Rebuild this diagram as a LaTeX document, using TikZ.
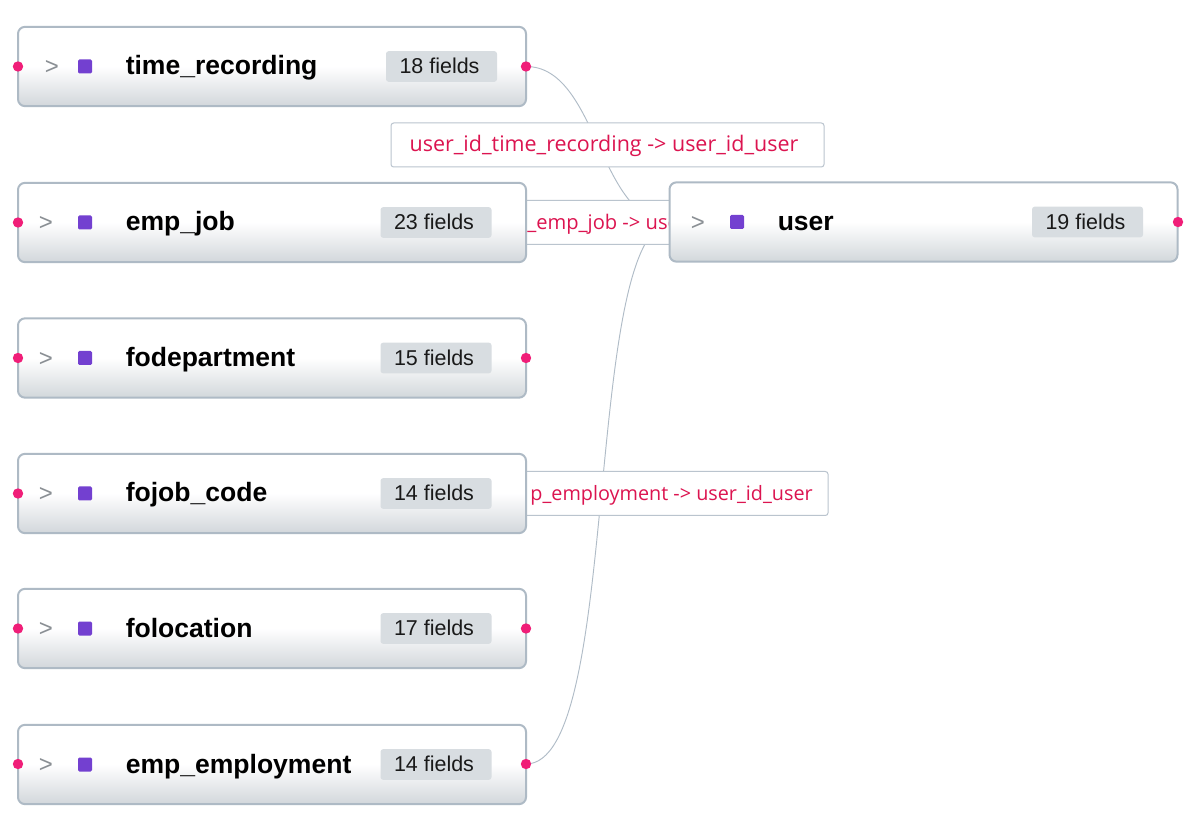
\documentclass[tikz,border=0pt]{standalone}
\usepackage{fontspec}
\setmainfont{Liberation Sans}
\newfontfamily\labelfont{Open Sans}
\definecolor{boxedge}{HTML}{AEBAC5}
\definecolor{gradend}{HTML}{D2D7DB}
\definecolor{pill}{HTML}{D8DDE1}
\definecolor{portpink}{HTML}{F01E78}
\definecolor{sqpurple}{HTML}{7340D0}
\definecolor{labelred}{HTML}{DC1450}
\definecolor{chevgrey}{HTML}{8A8F94}
\definecolor{edgegrey}{HTML}{B0BCC7}
\pgfdeclareverticalshading{boxgrad}{100bp}{color(0bp)=(gradend); color(25bp)=(gradend); color(50bp)=(white); color(75bp)=(white); color(100bp)=(white)}
\tikzset{
  x=0.75pt,y=-0.75pt,
  tablebox/.style={rectangle,rounded corners=5.25pt,draw=boxedge,line width=1.5pt,shading=boxgrad,minimum width=381pt,minimum height=59.5pt,inner sep=0pt},
  pillbox/.style={rectangle,rounded corners=2pt,fill=pill,minimum width=83.25pt,minimum height=23pt,inner sep=0pt,text height=11.2pt,text depth=0.4pt,font=\fontsize{16.1}{18}\selectfont,text=black!90},
  sqicon/.style={rectangle,rounded corners=1pt,fill=sqpurple,minimum size=10.5pt,inner sep=0pt},
  chev/.style={inner sep=0pt,text=chevgrey,yshift=-1.1pt,font=\fontsize{18}{18}\selectfont},
  titletext/.style={anchor=base west,inner sep=0pt,font=\bfseries\fontsize{19.9}{22}\selectfont,text=black},
  port/.style={circle,fill=portpink,minimum size=7.8pt,inner sep=0pt},
  edgeline/.style={draw=edgegrey,line width=0.7pt},
  edgelabel/.style={rectangle,rounded corners=2pt,draw=boxedge!85,line width=0.75pt,fill=white,inner sep=0pt,minimum height=33pt},
  labeltext/.style={inner sep=0pt,text=labelred,font=\labelfont\fontsize{16.1}{18}\selectfont},
}
\newcommand{\tablerow}[9]{%
  \node[tablebox] (#1) at (#2,#3) {};
  \node[chev] (#1-chev) at (#6,#3) {>};
  \node[sqicon] (#1-sq) at (#7,#3) {};
  \node[titletext] (#1-title) at (#8,#3+8.5) {#4};
  \node[pillbox] (#1-pill) at (#9,#3) {\kern-3pt #5};
}
\begin{document}
\begin{tikzpicture}
\useasboundingbox (0,0) rectangle (1200,830);
\fill[white] (0,0) rectangle (1200,830);
\coordinate (trout) at (526,66.5);
\coordinate (eeout) at (526,764);
\coordinate (userin) at (670,222);
% connectors
\draw[edgeline] (trout) .. controls (598,66.5) and (598,222) .. (userin);
\draw[edgeline] (eeout) .. controls (622,764) and (582,235) .. (userin);
% edge labels (their left parts lie behind the tables)
\node[edgelabel,minimum width=324.75pt] (l1) at (607.5,145) {};
\node[labeltext,anchor=base] (l1t) at (604,152) {user\_id\_time\_recording -> user\_id\_user};
\node[edgelabel,minimum width=180pt] (l2) at (560,222.5) {};
\node[labeltext,anchor=base west,font=\labelfont\fontsize{15.1}{18}\selectfont] (l2t) at (527,230) {\_emp\_job -> use};
\node[edgelabel,minimum width=240pt] (l3) at (668,493.5) {};
\node[labeltext,anchor=base east,font=\labelfont\fontsize{14.85}{18}\selectfont] (l3t) at (813,501) {p\_employment -> user\_id\_user};
% tables
\tablerow{tr}{272}{66.5}{time\_recording}{18 fields}{52}{85}{125.5}{441.5}
\tablerow{ej}{272}{222.5}{emp\_job}{23 fields}{46}{85}{125.5}{436}
\tablerow{fd}{272}{358}{fodepartment}{15 fields}{46}{85}{125.5}{436}
\tablerow{fj}{272}{493.5}{fojob\_code}{14 fields}{46}{85}{125.5}{436}
\tablerow{fl}{272}{628.5}{folocation}{17 fields}{46}{85}{125.5}{436}
\tablerow{ee}{272}{764.5}{emp\_employment}{14 fields}{46}{85}{125.5}{436}
\tablerow{us}{923.5}{222}{user}{19 fields}{698}{737}{777.5}{1087.5}
% ports
\node[port] (trp1) at (18,66.5) {};
\node[port] (trp2) at (trout) {};
\node[port] (ejp1) at (18,222.5) {};
\node[port] (fdp1) at (18,358) {};
\node[port] (fdp2) at (526,358) {};
\node[port] (fjp1) at (18,493.5) {};
\node[port] (flp1) at (18,628.5) {};
\node[port] (flp2) at (526,628.5) {};
\node[port] (eep1) at (18,764) {};
\node[port] (eep2) at (eeout) {};
\node[port] (usp2) at (1178,222) {};
\end{tikzpicture}
\end{document}
